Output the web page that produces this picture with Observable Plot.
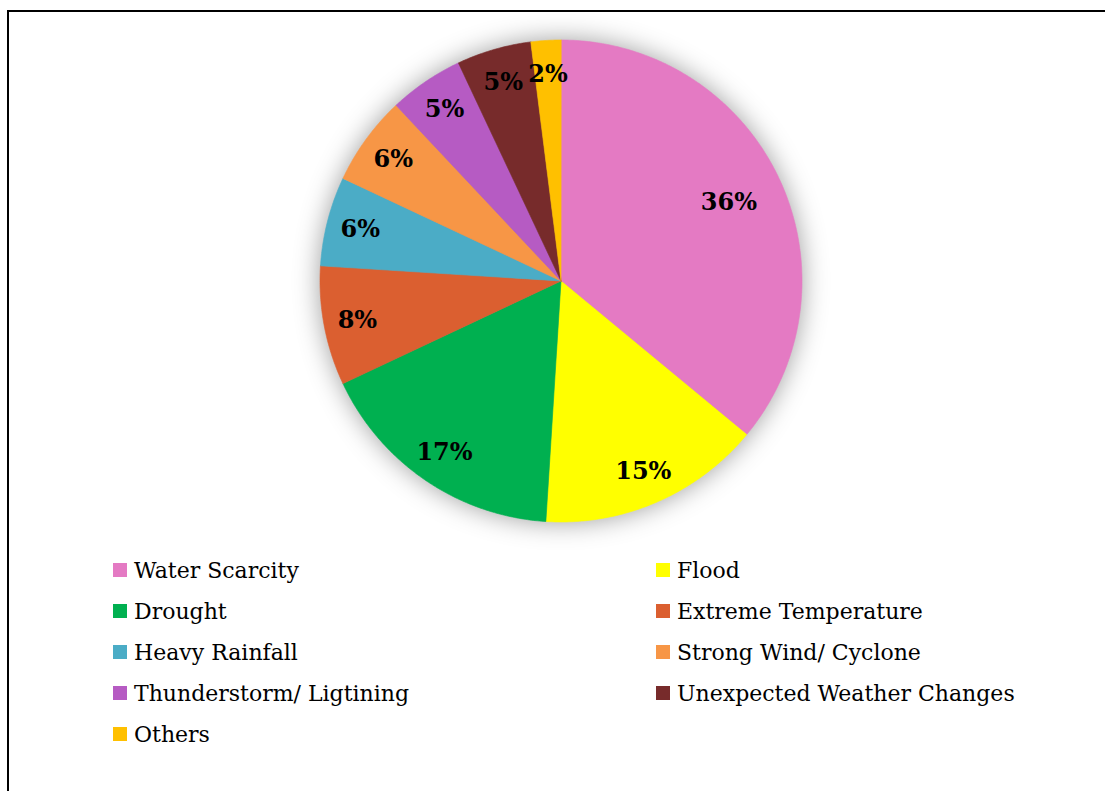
<!DOCTYPE html>
<html>
<head>
<meta charset="utf-8">
<script src="https://cdn.jsdelivr.net/npm/d3@7"></script>
<script src="https://cdn.jsdelivr.net/npm/@observablehq/plot@0.6"></script>
<style>
  html, body { margin: 0; padding: 0; background: #fff; }
  #page { position: relative; width: 1105px; height: 791px; overflow: hidden; }
  #frame { position: absolute; left: 7px; top: 10px; width: 1200px; height: 900px;
           border-left: 2px solid #000; border-top: 2px solid #000; z-index: 2; pointer-events: none; }
  #chart { position: absolute; left: 0; top: 0; }
  .item { position: absolute; font-family: "DejaVu Serif", serif; font-size: 22px; line-height: 22px; color: #000; white-space: nowrap; }
  .swatch { position: absolute; width: 14px; height: 14px; }
</style>
</head>
<body>
<div id="page">
  <div id="chart"></div>
  <div id="legend"></div>
  <div id="frame"></div>
</div>
<script>
// Hazard categories and their share of responses (%)
const categories = [
  "Water Scarcity", "Flood", "Drought", "Extreme Temperature", "Heavy Rainfall",
  "Strong Wind/ Cyclone", "Thunderstorm/ Ligtining", "Unexpected Weather Changes", "Others"
];
const shares = [36, 15, 17, 8, 6, 6, 5, 5, 2];
const colors = [
  "#E47AC3", "#FFFF00", "#00B050", "#DB5F30", "#4BACC6",
  "#F79646", "#B65BC3", "#772B2B", "#FFC000"
];

// Slice angles, clockwise from 12 o'clock
const total = d3.sum(shares);
let acc = 0;
const slices = categories.map((name, i) => {
  const a0 = acc / total * 2 * Math.PI;
  acc += shares[i];
  const a1 = acc / total * 2 * Math.PI;
  return {name, value: shares[i], a0, a1, mid: (a0 + a1) / 2};
});

// Polygon outline of each wedge in unit-circle coordinates
const outline = slices.flatMap(s => {
  const n = Math.max(2, Math.ceil((s.a1 - s.a0) / (Math.PI / 360)));
  const pts = [{name: s.name, x: 0, y: 0}];
  for (let k = 0; k <= n; k++) {
    const a = s.a0 + (s.a1 - s.a0) * k / n;
    pts.push({name: s.name, x: Math.sin(a), y: Math.cos(a)});
  }
  return pts;
});

// Large wedges carry their label further in
const labelRadius = d => d.value >= 30 ? 0.77 : 0.86;

const plot = Plot.plot({
  width: 1105,
  height: 560,
  margin: 0,
  style: {background: "transparent", overflow: "visible"},
  x: {domain: [-1, 1], range: [319.5, 801.5], axis: null},
  y: {domain: [-1, 1], range: [521.5, 39.5], axis: null},
  color: {domain: categories, range: colors},
  marks: [
    Plot.line(outline, {
      x: "x", y: "y", z: "name", fill: "name", stroke: "name",
      strokeWidth: 0.6, curve: "linear-closed"
    }),
    Plot.text(slices, {
      x: d => Math.sin(d.mid) * labelRadius(d),
      y: d => Math.cos(d.mid) * labelRadius(d),
      text: d => d.value + "%",
      fill: "#000",
      fontSize: 24,
      fontWeight: "bold",
      fontFamily: "DejaVu Serif, serif"
    })
  ]
});

// Soft glow around the pie
d3.select(plot).select('g[aria-label="line"]')
  .style("filter", "drop-shadow(0 0 13px rgba(0,0,0,0.38))");

document.getElementById("chart").appendChild(plot);

// Two-column legend below the pie
const legend = document.getElementById("legend");
categories.forEach((name, i) => {
  const col = i % 2, row = Math.floor(i / 2);
  const left = col === 0 ? 113 : 656;
  const cy = 570 + row * 41;
  const sw = document.createElement("div");
  sw.className = "swatch";
  sw.style.left = left + "px";
  sw.style.top = (cy - 7) + "px";
  sw.style.background = colors[i];
  legend.appendChild(sw);
  const tx = document.createElement("div");
  tx.className = "item";
  tx.style.left = (left + 21) + "px";
  tx.style.top = (cy - 10) + "px";
  tx.textContent = name;
  legend.appendChild(tx);
});
</script>
</body>
</html>
